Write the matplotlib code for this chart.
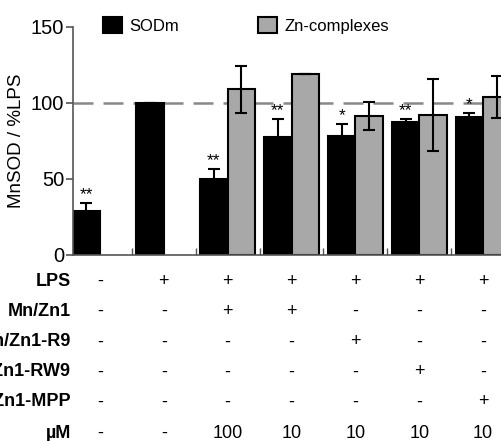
import matplotlib
matplotlib.use("Agg")
from matplotlib import pyplot as plt
from matplotlib.patches import Patch
from matplotlib.transforms import blended_transform_factory
import numpy as np

plt.rcParams['font.family'] = ['Liberation Sans', 'DejaVu Sans']

# ---- data ----
groups = np.arange(7)
sodm = [29, 100, 50, 77.5, 78, 87.5, 90.5]
sodm_err = [5, 0, 6.5, 12, 8, 2, 3]
sodm_stars = ['**', '', '**', '**', '*', '**', '*']
zn = [np.nan, np.nan, 109, 119, 91.5, 92, 104]
zn_err = [0, 0, 15.5, 0, 9, 23.5, 14]

row_labels = ['LPS', 'Mn/Zn1', 'Mn/Zn1-R9', 'Mn/Zn1-RW9', 'Mn/Zn1-MPP', 'µM']
row_values = [
    ['-', '+', '+', '+', '+', '+', '+'],
    ['-', '-', '+', '+', '-', '-', '-'],
    ['-', '-', '-', '-', '+', '-', '-'],
    ['-', '-', '-', '-', '-', '+', '-'],
    ['-', '-', '-', '-', '-', '-', '+'],
    ['-', '-', '100', '10', '10', '10', '10'],
]

W, H = 501, 441
fig = plt.figure(figsize=(W / 100, H / 100), dpi=100)
ax = fig.add_axes([72.5 / W, 1 - 255 / H, 1 - 72.5 / W, (255 - 27) / H])

bw = 0.43
grey = '#a8a8a8'
axcol = '#555555'

ax.bar(groups - 0.215, sodm, bw, color='black', edgecolor='black', lw=1.5, zorder=2)
ax.bar(groups + 0.215, zn, bw, color=grey, edgecolor='black', lw=1.5, zorder=2)
ax.errorbar(groups - 0.215, sodm, yerr=sodm_err, fmt='none', ecolor='black',
            elinewidth=1.5, capsize=4, capthick=1.5, zorder=3)
zn_mask = ~np.isnan(zn)
ax.errorbar((groups + 0.215)[zn_mask], np.array(zn)[zn_mask],
            yerr=np.array(zn_err)[zn_mask], fmt='none', ecolor='black',
            elinewidth=1.5, capsize=4, capthick=1.5, zorder=3)

for g, v, e, s in zip(groups, sodm, sodm_err, sodm_stars):
    if s:
        ax.text(g - 0.215, v + e + 0.5, s, ha='center', va='bottom', fontsize=12.5)

ax.axhline(100, color='#888888', lw=1.8, ls=(0, (8, 4)), zorder=1)

ax.set_xlim(-0.43, 6.28)
ax.set_ylim(0, 150)
ax.set_yticks([0, 50, 100, 150])
ax.tick_params(axis='y', labelsize=14.5, length=5, width=1.2, color=axcol, pad=1)
ax.set_xticks([])
ax.set_xticks(groups[:-1] + 0.5, minor=True)
ax.tick_params(axis='x', which='minor', direction='in', length=5, width=1, color=axcol)
for side in ['top', 'right']:
    ax.spines[side].set_visible(False)
for side in ['left', 'bottom']:
    ax.spines[side].set_color(axcol)
    ax.spines[side].set_linewidth(1.2)
ax.set_ylabel('MnSOD / %LPS', fontsize=13.5, labelpad=4)

handles = [Patch(facecolor='black', edgecolor='black', lw=1.5, label='SODm'),
           Patch(facecolor=grey, edgecolor='black', lw=1.5, label='Zn-complexes')]
ax.legend(handles=handles, ncol=2, loc='upper left', bbox_to_anchor=(0.036, 1.108),
          frameon=False, fontsize=12, handlelength=1.15, handleheight=1.1,
          columnspacing=4.7, handletextpad=0.45)

# ---- condition table under the axis ----
tr = blended_transform_factory(ax.transData, fig.transFigure)
row_y = [281, 311.5, 342, 372, 402, 433]
for lab, vals, yp in zip(row_labels, row_values, row_y):
    yf = 1 - yp / H
    fig.text(71 / W, yf, lab, ha='right', va='center', fontsize=13, fontweight='bold')
    for g, v in zip(groups, vals):
        ax.text(g, yf, v, transform=tr, ha='center', va='center', fontsize=13,
                clip_on=False)

fig.savefig('out.png', dpi=100)
